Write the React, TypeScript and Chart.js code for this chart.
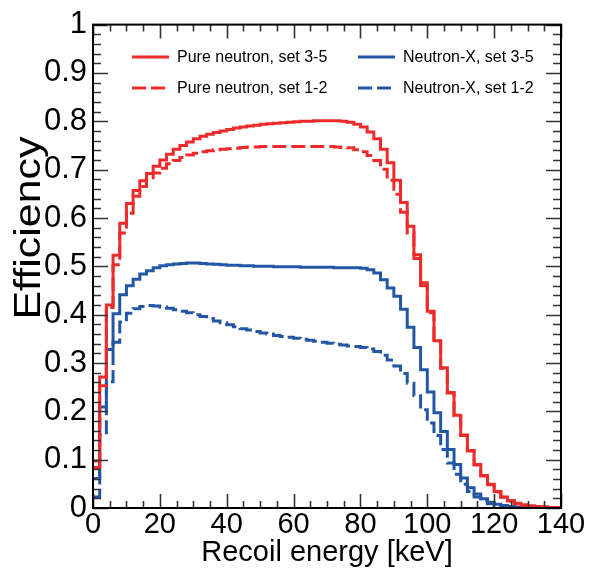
import React, { useEffect, useRef } from 'react';
import { Chart, registerables } from 'chart.js';

Chart.register(...registerables);

// ---------- data ----------
const BIN_WIDTH = 2; // keV
const X_MIN = 0;
const X_MAX = 140;
const binLowEdges: number[] = Array.from({ length: 70 }, (_, i) => X_MIN + i * BIN_WIDTH);

const seriesLabels = [
  'Pure neutron, set 3-5',
  'Pure neutron, set 1-2',
  'Neutron-X, set 3-5',
  'Neutron-X, set 1-2',
];

const pureNeutronSet35 = [
  0.084, 0.271, 0.420, 0.523, 0.589, 0.630, 0.657, 0.677, 0.692, 0.707,
  0.720, 0.732, 0.742, 0.750, 0.757, 0.764, 0.769, 0.773, 0.777, 0.780,
  0.783, 0.786, 0.788, 0.790, 0.792, 0.794, 0.795, 0.796, 0.797, 0.798,
  0.799, 0.800, 0.800, 0.801, 0.801, 0.801, 0.801, 0.800, 0.798, 0.794,
  0.788, 0.778, 0.764, 0.742, 0.714, 0.678, 0.632, 0.583, 0.524, 0.466,
  0.407, 0.346, 0.290, 0.239, 0.192, 0.151, 0.119, 0.090, 0.067, 0.049,
  0.034, 0.023, 0.015, 0.010, 0.006, 0.004, 0.003, 0.002, 0.001, 0.001,
];

const pureNeutronSet12 = [
  0.097, 0.253, 0.415, 0.503, 0.569, 0.610, 0.645, 0.665, 0.680, 0.693,
  0.703, 0.712, 0.719, 0.725, 0.730, 0.734, 0.737, 0.739, 0.741, 0.742,
  0.743, 0.744, 0.746, 0.747, 0.747, 0.748, 0.748, 0.748, 0.748, 0.748,
  0.748, 0.748, 0.748, 0.748, 0.748, 0.748, 0.747, 0.746, 0.745, 0.741,
  0.737, 0.729, 0.719, 0.701, 0.678, 0.649, 0.612, 0.569, 0.516, 0.460,
  0.404, 0.345, 0.289, 0.238, 0.191, 0.150, 0.118, 0.089, 0.066, 0.048,
  0.033, 0.022, 0.015, 0.009, 0.006, 0.004, 0.002, 0.002, 0.001, 0.001,
];

const neutronXSet35 = [
  0.061, 0.209, 0.328, 0.402, 0.441, 0.460, 0.473, 0.484, 0.491, 0.497,
  0.501, 0.503, 0.505, 0.506, 0.507, 0.507, 0.506, 0.505, 0.504, 0.503,
  0.502, 0.502, 0.501, 0.501, 0.500, 0.500, 0.500, 0.499, 0.499, 0.499,
  0.499, 0.498, 0.498, 0.498, 0.498, 0.498, 0.497, 0.497, 0.497, 0.497,
  0.496, 0.493, 0.486, 0.472, 0.455, 0.438, 0.411, 0.374, 0.332, 0.286,
  0.240, 0.197, 0.158, 0.121, 0.090, 0.062, 0.042, 0.029, 0.019, 0.012,
  0.008, 0.005, 0.003, 0.002, 0.001, 0.001, 0.000, 0.000, 0.000, 0.000,
];

const neutronXSet12 = [
  0.023, 0.152, 0.261, 0.343, 0.385, 0.403, 0.412, 0.417, 0.419, 0.418,
  0.416, 0.413, 0.410, 0.407, 0.404, 0.400, 0.396, 0.392, 0.387, 0.383,
  0.379, 0.375, 0.371, 0.368, 0.365, 0.362, 0.360, 0.357, 0.355, 0.353,
  0.351, 0.349, 0.347, 0.345, 0.343, 0.341, 0.339, 0.337, 0.335, 0.334,
  0.332, 0.329, 0.324, 0.316, 0.306, 0.294, 0.278, 0.258, 0.232, 0.203,
  0.176, 0.150, 0.121, 0.093, 0.070, 0.049, 0.034, 0.023, 0.015, 0.009,
  0.005, 0.003, 0.002, 0.001, 0.000, 0.000, 0.000, 0.000, 0.000, 0.000,
];

const yTickStep = 0.1;
const yMinorStep = 0.02;
const xTickStep = 20;
const xMinorStep = 5;

const xTitle = 'Recoil energy [keV]';
const yTitle = 'Efficiency';

// ---------- styles ----------
const RED = '#ee2b2b';
const BLUE = '#2357a6';
const FONT = '"Liberation Sans", Arial, Helvetica, sans-serif';
const DASH = [14, 5];

function toSteps(values: number[]) {
  const pts = values.map((v, i) => ({ x: binLowEdges[i], y: v }));
  const last = values.length - 1;
  pts.push({ x: binLowEdges[last] + BIN_WIDTH, y: values[last] });
  return pts;
}

const frameAndTicks = {
  id: 'frameAndTicks',
  afterDatasetsDraw(chart: any) {
    const { ctx, chartArea: a, scales } = chart;
    const xs = scales.x;
    const ys = scales.y;
    ctx.save();
    ctx.strokeStyle = '#333';
    ctx.lineCap = 'butt';
    const nx = Math.round((X_MAX - X_MIN) / xMinorStep);
    for (let i = 0; i <= nx; i++) {
      const v = X_MIN + i * xMinorStep;
      const major = Math.abs(v / xTickStep - Math.round(v / xTickStep)) < 1e-6;
      const len = major ? 14 : 7;
      const px = Math.round(xs.getPixelForValue(v)) + 0.5;
      ctx.lineWidth = 1.6;
      ctx.beginPath();
      ctx.moveTo(px, a.bottom);
      ctx.lineTo(px, a.bottom - len);
      ctx.moveTo(px, a.top);
      ctx.lineTo(px, a.top + len);
      ctx.stroke();
    }
    const ny = Math.round(1 / yMinorStep);
    for (let i = 0; i <= ny; i++) {
      const v = i * yMinorStep;
      const major = Math.abs(v / yTickStep - Math.round(v / yTickStep)) < 1e-6;
      const len = major ? 15 : 8;
      const py = Math.round(ys.getPixelForValue(v)) + 0.5;
      ctx.lineWidth = 1.6;
      ctx.beginPath();
      ctx.moveTo(a.left, py);
      ctx.lineTo(a.left + len, py);
      ctx.moveTo(a.right, py);
      ctx.lineTo(a.right - len, py);
      ctx.stroke();
    }
    ctx.strokeStyle = '#000';
    ctx.lineWidth = 2;
    ctx.strokeRect(a.left, a.top, a.right - a.left, a.bottom - a.top);

    // legend (two columns)
    const ds = chart.data.datasets;
    const cols = [
      { lineX: 132, textX: 177 },
      { lineX: 358, textX: 403 },
    ];
    const rows = [57, 88];
    const lineLen = 37;
    ctx.font = `16px ${FONT}`;
    ctx.textBaseline = 'middle';
    ctx.textAlign = 'left';
    ds.forEach((d: any, i: number) => {
      const c = cols[Math.floor(i / 2)];
      const r = rows[i % 2];
      ctx.strokeStyle = d.borderColor;
      ctx.lineWidth = 3;
      ctx.setLineDash(d.borderDash || []);
      ctx.beginPath();
      ctx.moveTo(c.lineX, r);
      ctx.lineTo(c.lineX + lineLen, r);
      ctx.stroke();
      ctx.setLineDash([]);
      ctx.fillStyle = '#000';
      ctx.fillText(d.label, c.textX, r + 1);
    });

    // y-axis title
    ctx.translate(30, 228);
    ctx.rotate(-Math.PI / 2);
    ctx.scale(1, 0.85);
    ctx.font = `43px ${FONT}`;
    ctx.textAlign = 'center';
    ctx.textBaseline = 'middle';
    ctx.fillStyle = '#000';
    ctx.fillText(yTitle, 0, 0);
    ctx.restore();
  },
};

export default function App() {
  const ref = useRef<HTMLCanvasElement | null>(null);
  useEffect(() => {
    if (!ref.current) return;
    const mk = (label: string, values: number[], color: string, dashed: boolean) => ({
      label,
      data: toSteps(values),
      borderColor: color,
      backgroundColor: color,
      borderWidth: 3,
      borderDash: dashed ? DASH : [],
      stepped: 'before' as const,
      pointRadius: 0,
      fill: false,
      tension: 0,
    });
    const chart = new Chart(ref.current, {
      type: 'line',
      data: {
        datasets: [
          mk(seriesLabels[0], pureNeutronSet35, RED, false),
          mk(seriesLabels[1], pureNeutronSet12, RED, true),
          mk(seriesLabels[2], neutronXSet35, BLUE, false),
          mk(seriesLabels[3], neutronXSet12, BLUE, true),
        ],
      },
      options: {
        responsive: false,
        animation: false,
        devicePixelRatio: 1,
        layout: { padding: { top: 18, right: 47, left: 0, bottom: 0 } },
        plugins: {
          legend: { display: false },
          tooltip: { enabled: false },
        },
        scales: {
          x: {
            type: 'linear',
            min: X_MIN,
            max: X_MAX,
            grid: { display: false, drawTicks: false },
            border: { display: false },
            ticks: {
              stepSize: xTickStep,
              color: '#000',
              font: { family: FONT, size: 29 },
              padding: 0,
              maxRotation: 0,
              autoSkip: false,
            },
            title: {
              display: true,
              text: xTitle,
              color: '#000',
              font: { family: FONT, size: 29 },
              padding: { top: 0, bottom: 7 },
            },
            afterFit: (s: any) => {
              s.height = 69;
            },
          },
          y: {
            type: 'linear',
            min: 0,
            max: 1,
            grid: { display: false, drawTicks: false },
            border: { display: false },
            ticks: {
              stepSize: yTickStep,
              color: '#000',
              font: { family: FONT, size: 31 },
              padding: 6,
              autoSkip: false,
              callback: (v: any) => String(Number(Number(v).toFixed(1))),
            },
            title: { display: false },
            afterFit: (s: any) => {
              s.width = 93;
            },
          },
        },
      },
      plugins: [frameAndTicks],
    });
    return () => chart.destroy();
  }, []);
  return (
    <div style={{ position: 'absolute', left: 0, top: 0, width: 608, height: 577, background: '#fff' }}>
      <canvas ref={ref} width={608} height={577} style={{ display: 'block' }} />
    </div>
  );
}
